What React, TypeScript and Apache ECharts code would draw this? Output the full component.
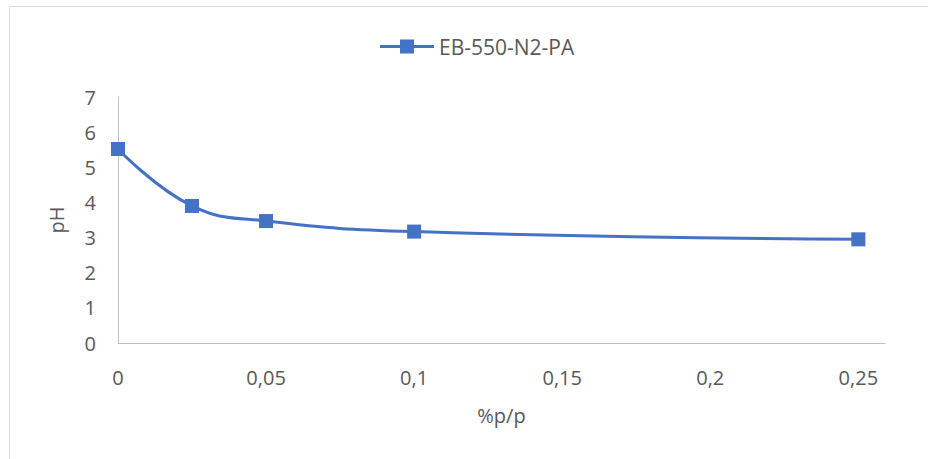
import React, { useEffect, useRef } from "react";
import * as echarts from "echarts";

const seriesName = "EB-550-N2-PA";
const xValues = [0, 0.025, 0.05, 0.1, 0.25];
const phValues = [5.52, 3.9, 3.47, 3.17, 2.95];
const yTicks = [0, 1, 2, 3, 4, 5, 6, 7];
const xTitle = "%p/p";
const yTitle = "pH";

const FONT = "'Open Sans', 'Noto Sans', sans-serif";
const TEXT = "#595959";
const BLUE = "#4472C4";
const FS = 20;

export default function App() {
  const ref = useRef<HTMLDivElement>(null);
  useEffect(() => {
    if (!ref.current) return;
    const chart = echarts.init(ref.current, undefined, { renderer: "svg" });
    const data = xValues.map((x, i) => [x, phValues[i]]);
    chart.setOption({
      animation: false,
      backgroundColor: "#ffffff",
      textStyle: { fontFamily: FONT },
      graphic: [
        {
          type: "rect",
          shape: { x: 9.5, y: 6.5, width: 1000, height: 1000 },
          style: { fill: "none", stroke: "#d9d9d9", lineWidth: 1 },
          silent: true,
        },
      ],
      legend: {
        top: 31,
        left: 375,
        padding: 5,
        itemWidth: 54,
        itemHeight: 14,
        textStyle: { color: TEXT, fontSize: 21, fontFamily: FONT },
        data: [
          {
            name: seriesName,
            icon: "path://M0,5.5 L20,5.5 L20,0 L34,0 L34,5.5 L54,5.5 L54,8.5 L34,8.5 L34,14 L20,14 L20,8.5 L0,8.5 Z",
          },
        ],
      },
      grid: { left: 118, top: 97, width: 767, height: 246, containLabel: false },
      xAxis: {
        type: "value",
        min: 0,
        max: 0.259,
        interval: 0.05,
        name: xTitle,
        nameLocation: "middle",
        nameGap: 62,
        nameTextStyle: { color: TEXT, fontSize: FS, fontFamily: FONT },
        axisLine: { show: true, lineStyle: { color: "#bfbfbf", width: 1 } },
        axisTick: { show: false },
        splitLine: { show: false },
        axisLabel: {
          color: TEXT,
          fontSize: FS,
          fontFamily: FONT,
          margin: 24,
          formatter: (v: number) => {
            const r = Math.round(v / 0.05);
            if (Math.abs(v - r * 0.05) > 1e-9) return "";
            return String(Number((r * 0.05).toFixed(2))).replace(".", ",");
          },
        },
      },
      yAxis: {
        type: "value",
        min: yTicks[0],
        max: yTicks[yTicks.length - 1],
        interval: 1,
        name: yTitle,
        nameLocation: "middle",
        nameGap: 52,
        nameRotate: 90,
        nameTextStyle: { color: TEXT, fontSize: FS, fontFamily: FONT },
        axisLine: { show: true, lineStyle: { color: "#bfbfbf", width: 1 } },
        axisTick: { show: false },
        splitLine: { show: false },
        axisLabel: { color: TEXT, fontSize: FS, fontFamily: FONT, margin: 22 },
      },
      series: [
        {
          name: seriesName,
          type: "line",
          data,
          smooth: 0.45,
          symbol: "rect",
          symbolSize: 14,
          itemStyle: { color: BLUE },
          lineStyle: { color: BLUE, width: 3 },
        },
      ],
    });
    return () => chart.dispose();
  }, []);
  return (
    <div
      ref={ref}
      style={{ position: "fixed", left: 0, top: 0, width: 928, height: 459 }}
    />
  );
}
